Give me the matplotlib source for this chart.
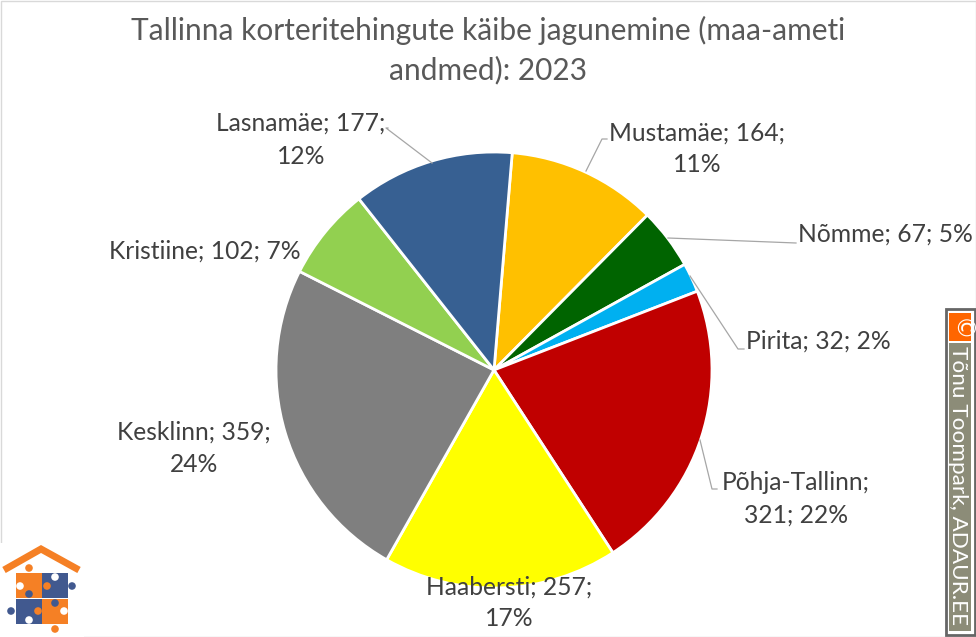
import matplotlib
matplotlib.use("Agg")
import matplotlib.pyplot as plt
from matplotlib.patches import Rectangle, Circle

districts = ["Mustamäe", "Nõmme", "Pirita", "Põhja-Tallinn", "Haabersti", "Kesklinn", "Kristiine", "Lasnamäe"]
turnover = [164, 67, 32, 321, 257, 359, 102, 177]
percent_labels = ["11%", "5%", "2%", "22%", "17%", "24%", "7%", "12%"]
colors = ["#FFC000", "#006400", "#00B0F0", "#C00000", "#FFFF00", "#7F7F7F", "#92D050", "#376092"]
title_lines = ["Tallinna korteritehingute käibe jagunemine (maa-ameti", "andmed): 2023"]

W, H = 976, 637
plt.rcParams["font.family"] = ["Lato", "DejaVu Sans"]
fig = plt.figure(figsize=(W / 100, H / 100), dpi=100, facecolor="white")
ax = fig.add_axes([0, 0, 1, 1])

def Y(py):
    return H - py

ax.pie(turnover, colors=colors, startangle=85.2, counterclock=False,
       center=(494, Y(370)), radius=218,
       wedgeprops=dict(edgecolor="white", linewidth=2))
ax.set_xlim(0, W)
ax.set_ylim(0, H)
ax.set_aspect("equal")
ax.axis("off")

# chart frame
ax.add_patch(Rectangle((0.5, 0.5), W - 1, H - 1, fill=False, edgecolor="#D9D9D9", lw=1))

# title
for line, py in zip(title_lines, (30, 70)):
    ax.text(488, Y(py), line, ha="center", va="center", fontsize=21.5, color="#595959")

# data labels
placements = {
    "Mustamäe": (697, 133, 164, True),
    "Nõmme": (885, 234, None, False),
    "Pirita": (818, 341, None, False),
    "Põhja-Tallinn": (796, 483, 515, True),
    "Haabersti": (509, 587, 619, True),
    "Kesklinn": (194, 432, 464, True),
    "Kristiine": (205, 251, None, False),
    "Lasnamäe": (301, 123, 156, True),
}
for d, v, p in zip(districts, turnover, percent_labels):
    x, y1, y2, two = placements[d]
    if d == "Põhja-Tallinn":
        l1, l2 = f"{d};", f"{v}; {p}"
    elif two:
        l1, l2 = f"{d}; {v};", p
    else:
        l1, l2 = f"{d}; {v}; {p}", None
    ax.text(x, Y(y1), l1, ha="center", va="center", fontsize=17.7, color="#404040", zorder=5)
    if l2:
        ax.text(x, Y(y2), l2, ha="center", va="center", fontsize=17.7, color="#404040", zorder=5)

# leader lines
leaders = [
    [(586, 171), (602, 139), (607, 139)],
    [(668, 238), (796, 243)],
    [(690, 276), (738, 349), (744, 349)],
    [(700, 440), (712, 489), (717, 489)],
    [(432, 163), (386, 128), (388, 128)],
]
for pts in leaders:
    ax.plot([p[0] for p in pts], [Y(p[1]) for p in pts], color="#A6A6A6", lw=0.9, zorder=4)

# copyright strip
ax.add_patch(Rectangle((945.5, Y(635)), 29, 326, fc="white", ec="#666666", lw=2, zorder=6))
ax.add_patch(Rectangle((949, Y(341)), 22, 28, fc="#FF6600", ec="none", zorder=7))
ax.add_patch(Rectangle((949, Y(631)), 22, 288, fc="#8C8C78", ec="none", zorder=7))
ax.text(960, Y(327), "©", rotation=270, ha="center", va="center_baseline", color="white",
        fontsize=17, zorder=8, family="DejaVu Sans")
ax.text(958.5, Y(346), "Tõnu Toompark, ADAUR.EE", rotation=270, ha="center", va="top",
        color="white", fontsize=16.2, zorder=8)

# logo
ax.add_patch(Rectangle((0, 0), 84, H - 543, fc="white", ec="none", zorder=6))
ax.plot([4, 41, 79], [Y(570), Y(549), Y(570)], color="#F58025", lw=5, solid_joinstyle="miter",
        solid_capstyle="butt", zorder=7)
orange, blue = "#F58025", "#41598F"
for x, py, c in [(16, 598, orange), (42, 598, blue), (16, 624, blue), (42, 624, orange)]:
    ax.add_patch(Rectangle((x, Y(py)), 26, 25.5, fc=c, ec="none", zorder=7))
for x, py, c in [(29, 568, orange), (55, 577, "white"), (20, 586, "white"), (47, 586, orange),
                 (72, 586, blue), (29, 594, blue), (55, 603, blue), (11, 611, blue),
                 (38, 611, orange), (64, 611, "white"), (29, 620, "white"), (55, 629, orange)]:
    ax.add_patch(Circle((x, Y(py)), 3.8, fc=c, ec="none", zorder=8))

fig.savefig("out.png", dpi=100, facecolor="white")
